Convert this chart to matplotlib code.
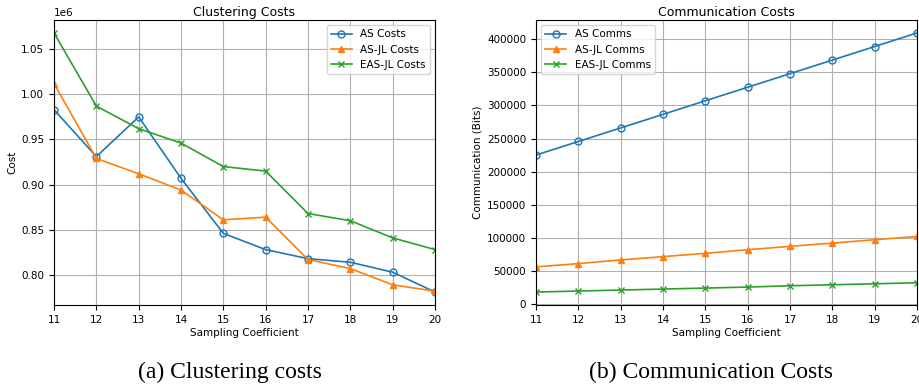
import matplotlib
matplotlib.use("Agg")
import matplotlib.pyplot as plt

x = [11, 12, 13, 14, 15, 16, 17, 18, 19, 20]
as_costs = [983000, 931000, 975000, 907000, 846000, 828000, 818000, 814000, 803000, 781000]
asjl_costs = [1012000, 929000, 912000, 894000, 861000, 864000, 817000, 807000, 789000, 782000]
easjl_costs = [1068000, 987000, 962000, 946000, 920000, 915000, 868000, 860000, 841000, 828000]

as_comms = [225000, 245500, 266000, 286500, 307000, 327500, 348000, 368500, 389000, 409500]
asjl_comms = [56000, 61000, 66500, 71500, 76500, 82000, 87000, 92000, 97000, 102000]
easjl_comms = [18000, 19500, 21000, 22500, 24000, 25500, 27500, 29000, 30500, 32000]

plt.rcParams['font.family'] = ['DejaVu Sans']
fs = 7.5
fig = plt.figure(figsize=(9.2, 3.85), dpi=100)

ax1 = fig.add_axes([54/920, 80/385, 381/920, 285/385])
ax1.plot(x, as_costs, marker='o', fillstyle='none', ms=5, lw=1.2, color='#1f77b4', label='AS Costs')
ax1.plot(x, asjl_costs, marker='^', ms=5, lw=1.2, color='#ff7f0e', label='AS-JL Costs')
ax1.plot(x, easjl_costs, marker='x', ms=5, lw=1.2, color='#2ca02c', label='EAS-JL Costs')
ax1.set_title('Clustering Costs', fontsize=9, pad=3)
ax1.set_xlabel('Sampling Coefficient', fontsize=fs, labelpad=2)
ax1.set_ylabel('Cost', fontsize=fs, labelpad=3)
ax1.set_xlim(11, 20)
ax1.set_xticks(x)
ax1.grid(True)
ax1.tick_params(labelsize=fs)
ax1.yaxis.get_offset_text().set_fontsize(fs)
ax1.legend(fontsize=fs, loc='upper right')

ax2 = fig.add_axes([536/920, 80/385, 381/920, 285/385])
ax2.plot(x, as_comms, marker='o', fillstyle='none', ms=5, lw=1.2, color='#1f77b4', label='AS Comms')
ax2.plot(x, asjl_comms, marker='^', ms=5, lw=1.2, color='#ff7f0e', label='AS-JL Comms')
ax2.plot(x, easjl_comms, marker='x', ms=5, lw=1.2, color='#2ca02c', label='EAS-JL Comms')
ax2.set_title('Communication Costs', fontsize=9, pad=3)
ax2.set_xlabel('Sampling Coefficient', fontsize=fs, labelpad=2)
ax2.set_ylabel('Communication (Bits)', fontsize=fs, labelpad=3)
ax2.set_xlim(11, 20)
ax2.set_xticks(x)
ax2.grid(True)
ax2.tick_params(labelsize=fs)
ax2.legend(fontsize=fs, loc='upper left')

fig.text(230/920, 1 - 372/385, '(a) Clustering costs', ha='center', va='center',
         fontsize=17, family='Liberation Serif')
fig.text(711/920, 1 - 372/385, '(b) Communication Costs', ha='center', va='center',
         fontsize=17, family='Liberation Serif')

fig.savefig('out.png', dpi=100)
